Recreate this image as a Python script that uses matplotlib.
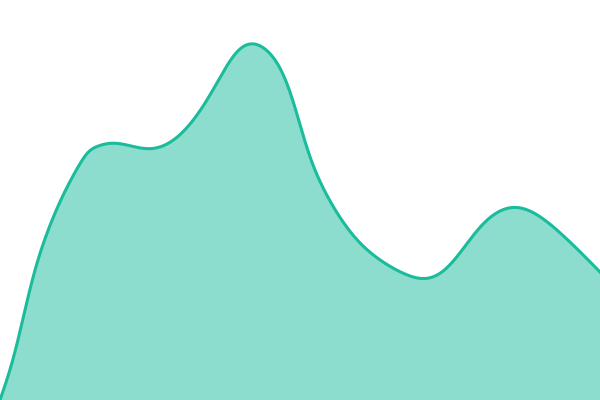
import numpy as np
import matplotlib
matplotlib.use("Agg")
import matplotlib.pyplot as plt

# points (x position, height above the bottom)
# the line bends sharply at x=88, so it is drawn as two smooth pieces
xs_rise = [0, 15, 30, 48, 67, 88]
ys_rise = [0, 47, 112, 170, 213, 250]
xs_rest = [88, 110, 150, 180, 213, 238, 252, 267, 280, 293, 307, 320, 337,
           357, 380, 407, 423, 445, 480, 515, 557, 600]
ys_rest = [250, 257, 251, 265, 310, 350, 357, 350, 333, 300, 251, 218, 187,
           160, 140, 125, 121, 130, 173, 193, 170, 128]


def natural_spline(x, y, xn):
    """Spline cubico natural (segunda derivada cero en los extremos)."""
    x = np.asarray(x, float)
    y = np.asarray(y, float)
    n = len(x)
    h = np.diff(x)
    A = np.zeros((n, n))
    b = np.zeros(n)
    A[0, 0] = A[-1, -1] = 1
    for i in range(1, n - 1):
        A[i, i - 1] = h[i - 1]
        A[i, i] = 2 * (h[i - 1] + h[i])
        A[i, i + 1] = h[i]
        b[i] = 6 * ((y[i + 1] - y[i]) / h[i] - (y[i] - y[i - 1]) / h[i - 1])
    M = np.linalg.solve(A, b)
    idx = np.clip(np.searchsorted(x, xn) - 1, 0, n - 2)
    dx0 = xn - x[idx]
    dx1 = x[idx + 1] - xn
    hi = h[idx]
    return (M[idx] * dx1**3 / (6 * hi) + M[idx + 1] * dx0**3 / (6 * hi)
            + (y[idx] / hi - M[idx] * hi / 6) * dx1
            + (y[idx + 1] / hi - M[idx + 1] * hi / 6) * dx0)


# malla uniforme de 0.5 px para poder suavizar despues
step = 0.5
xn = np.arange(0, 600 + step, step)
yn = np.where(xn <= xs_rise[-1],
              natural_spline(xs_rise, ys_rise, xn),
              natural_spline(xs_rest, ys_rest, xn))

# suavizado gaussiano para redondear la esquina y quitar ondulaciones
sigma = 5.0 / step
k = np.arange(-int(4 * sigma), int(4 * sigma) + 1)
kern = np.exp(-0.5 * (k / sigma) ** 2)
kern /= kern.sum()
pad = len(k) // 2
left = 2 * yn[0] - yn[pad:0:-1]
right = 2 * yn[-1] - yn[-2:-pad - 2:-1]
ys_smooth = np.convolve(np.concatenate([left, yn, right]), kern, mode="valid")

fig = plt.figure(figsize=(6, 4), dpi=100)
ax = fig.add_axes([0, 0, 1, 1])
ax.fill_between(xn, 0, ys_smooth, color="#1abc9c", alpha=0.5, linewidth=0)
ax.plot(xn, ys_smooth, color="#1abc9c", linewidth=2.2, solid_joinstyle="round")
ax.set_xlim(0, 600)
ax.set_ylim(0, 400)
ax.axis("off")

fig.savefig("out.png", dpi=100)
